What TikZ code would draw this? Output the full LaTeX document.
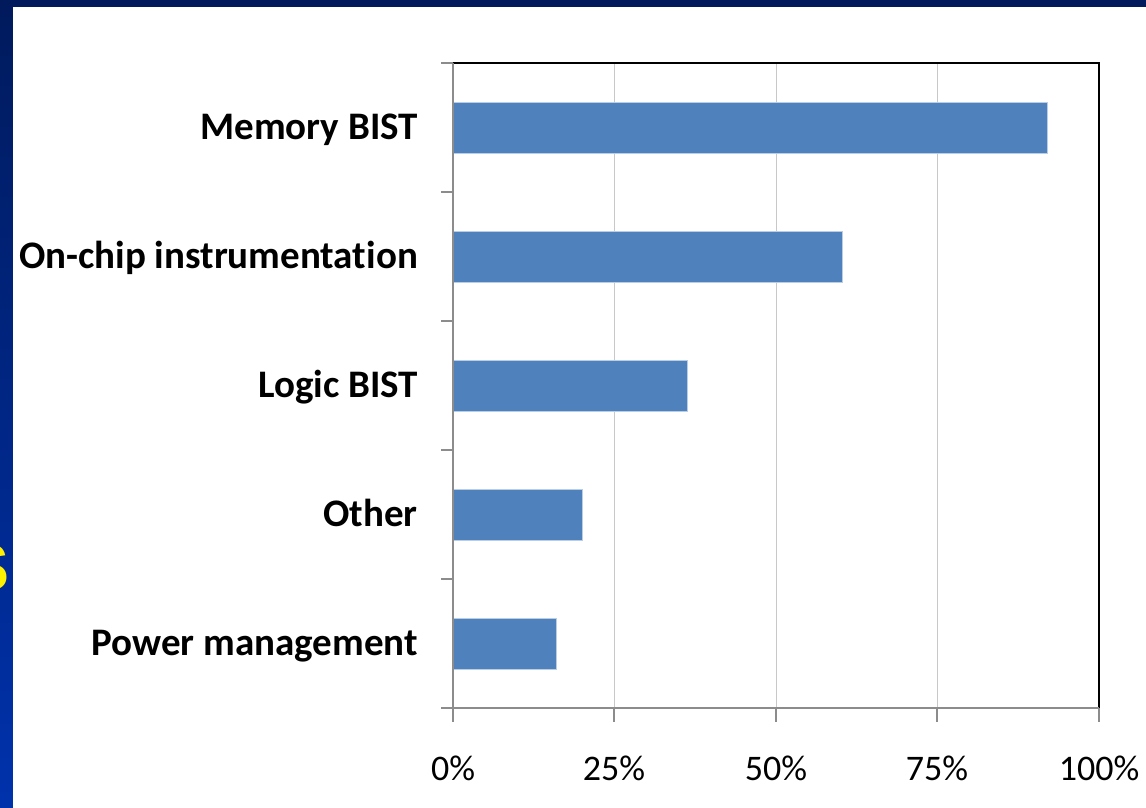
\documentclass[tikz,border=0pt]{standalone}
\usepackage{fontspec}
\usepackage{tikz}
\usetikzlibrary{positioning}
\newfontfamily\chartfont[Ligatures=NoCommon]{Carlito}
\newfontfamily\titlefont{Liberation Sans}
\definecolor{slideTop}{RGB}{0,26,92}
\definecolor{slideBot}{RGB}{0,50,172}
\definecolor{barBlue}{RGB}{79,129,189}
\definecolor{barEdge}{RGB}{185,205,229}
\definecolor{gridGray}{RGB}{200,200,200}
\definecolor{axisGray}{RGB}{140,140,140}

\begin{document}
\begin{tikzpicture}[x=1pt, y=-1pt,
    catlabel/.style={anchor=base east, inner sep=0pt, text=black, font=\chartfont\bfseries\fontsize{39}{44}\selectfont},
    pctlabel/.style={anchor=base, inner sep=0pt, text=black, font=\chartfont\fontsize{36}{40}\selectfont},
    bar/.style={fill=barBlue, draw=barEdge, line width=0.8pt}]
    \useasboundingbox (0,0) rectangle (1146,808);

    % slide background
    \shade[top color=slideTop, bottom color=slideBot] (0,0) rectangle (1146,808);
    \node[anchor=base east, inner sep=0pt, text=yellow, font=\titlefont\bfseries\fontsize{66}{70}\selectfont] (title) at (10,590) {S};
    \fill[white] (12.7,7) rectangle (1146,808);

    % grid and frame
    \draw[gridGray, line width=1pt] (614,63) -- (614,708);
    \draw[gridGray, line width=1pt] (776,63) -- (776,708);
    \draw[gridGray, line width=1pt] (937,63) -- (937,708);
    \draw[black, line width=1.3pt] (453,63) -- (1099,63) -- (1099,708);

    % bars
    \draw[bar] (453,102) rectangle (1047,153);
    \draw[bar] (453,231) rectangle (842,282);
    \draw[bar] (453,360) rectangle (687,411);
    \draw[bar] (453,489) rectangle (582,540);
    \draw[bar] (453,618) rectangle (556,669);

    % axes and ticks
    \draw[axisGray, line width=1.3pt] (453,63) -- (453,708) -- (1099,708);
    \draw[axisGray, line width=1.3pt] (441,63) -- (453,63);
    \draw[axisGray, line width=1.3pt] (441,192) -- (453,192);
    \draw[axisGray, line width=1.3pt] (441,321) -- (453,321);
    \draw[axisGray, line width=1.3pt] (441,450) -- (453,450);
    \draw[axisGray, line width=1.3pt] (441,579) -- (453,579);
    \draw[axisGray, line width=1.3pt] (441,708) -- (453,708);
    \draw[axisGray, line width=1.3pt] (453,708) -- (453,722);
    \draw[axisGray, line width=1.3pt] (614,708) -- (614,722);
    \draw[axisGray, line width=1.3pt] (776,708) -- (776,722);
    \draw[axisGray, line width=1.3pt] (937,708) -- (937,722);
    \draw[axisGray, line width=1.3pt] (1099,708) -- (1099,722);

    % category labels
    \node[catlabel] (mem) at (418,139) {Memory BIST};
    \node[catlabel] (onchip) at (418,268) {On-chip instrumentation};
    \node[catlabel] (logic) at (418,397) {Logic BIST};
    \node[catlabel] (other) at (418,526) {Other};
    \node[catlabel] (power) at (418,655) {Power management};

    % value labels
    \node[pctlabel] (p0) at (453,780) {0\%};
    \node[pctlabel] (p25) at (614,780) {25\%};
    \node[pctlabel] (p50) at (776,780) {50\%};
    \node[pctlabel] (p75) at (937,780) {75\%};
    \node[pctlabel] (p100) at (1099,780) {100\%};
\end{tikzpicture}
\end{document}
